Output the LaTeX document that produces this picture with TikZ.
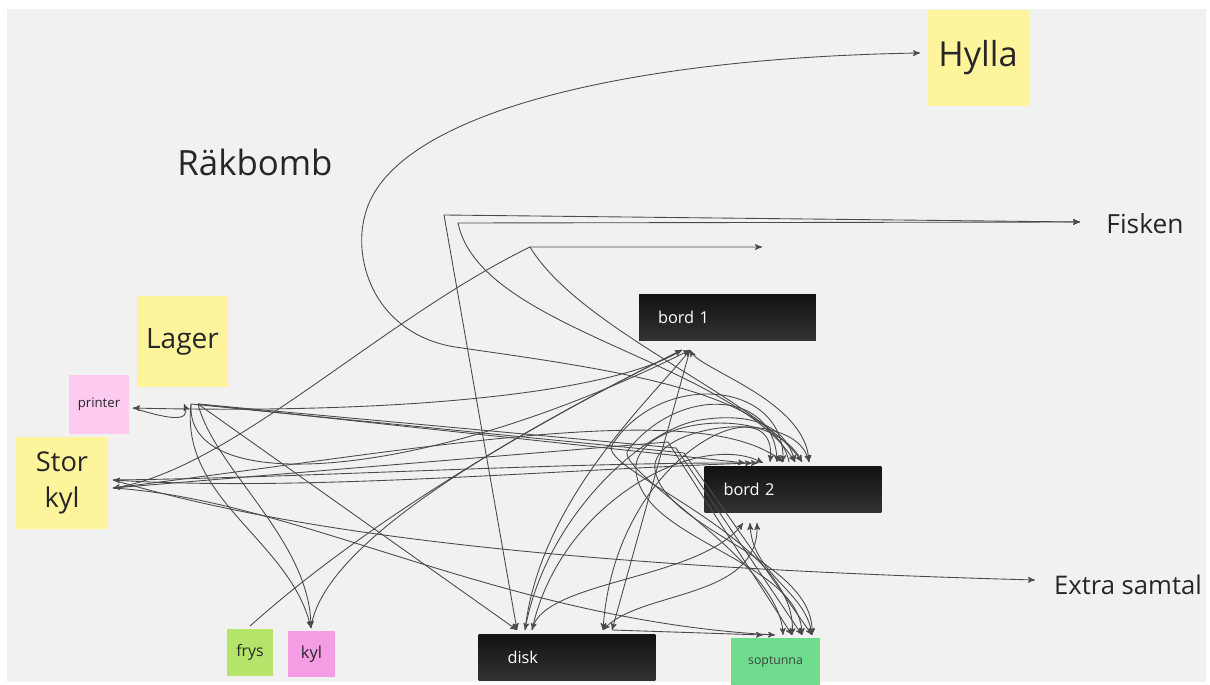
\documentclass[tikz,border=0pt]{standalone}
\usepackage{fontspec}
\setmainfont{Open Sans}
\usepackage{tikz}
\usetikzlibrary{arrows,positioning}
\usepackage{xcolor}
\definecolor{board}{HTML}{F1F1F1}
\definecolor{gul}{HTML}{FEF49C}
\definecolor{rosa}{HTML}{FCCBEF}
\definecolor{lila}{HTML}{F49DE4}
\definecolor{lime}{HTML}{B5E46A}
\definecolor{mint}{HTML}{6FDC8E}
\definecolor{linje}{HTML}{4A4A4A}

\begin{document}
\begin{tikzpicture}[x=0.02cm,y=-0.02cm,>=stealth',
	note/.style={inner sep=0pt,align=center,text=black!85},
	bord/.style={top color=black!93,bottom color=black!80,text=white,inner xsep=0.38cm,inner ysep=0pt,minimum height=0.94cm,text width=2.78cm,align=left,font=\fontsize{9.3}{11}\selectfont},
	pil/.style={draw=linje,line width=0.5pt}]
	\useasboundingbox[fill=white] (0,0) rectangle (1210,685);
	\fill[board] (7,9) rectangle (1206,682);

	  \node[note,fill=gul,minimum width=2.02cm,minimum height=1.92cm,font=\fontsize{19.6}{23}\selectfont] (hylla) at (978,58) {Hylla};
	  \node[note,fill=gul,minimum width=1.82cm,minimum height=1.82cm,font=\fontsize{16}{19}\selectfont] (lager) at (182.5,341.5) {Lager};
	  \node[note,fill=rosa,minimum width=1.2cm,minimum height=1.18cm,font=\fontsize{7.5}{9}\selectfont] (printer) at (99,404.5) {printer};
	  \node[note,fill=gul,minimum width=1.84cm,minimum height=1.84cm,font=\fontsize{15.5}{20.4}\selectfont] (storkyl) at (62,483) {Stor\\kyl};
	  \node[note,fill=lime,minimum width=0.92cm,minimum height=0.94cm,font=\fontsize{9}{11}\selectfont] (frys) at (250,652.5) {frys};
	  \node[note,fill=lila,minimum width=0.94cm,minimum height=0.92cm,font=\fontsize{9.4}{11}\selectfont] (kyl) at (311.5,654) {kyl};
	  \node[bord] (bord1) at (727.5,317.5) {bord 1};
	  \node[bord] (bord2) at (793,489.5) {bord 2};
	  \node[bord,inner xsep=0.58cm,text width=2.38cm] (disk) at (567,657.5) {disk};
	  \node[note,fill=mint,minimum width=1.78cm,minimum height=0.94cm,font=\fontsize{7}{9}\selectfont,text=black!75] (soptunna) at (775.5,661.5) {soptunna};

	  \node[font=\fontsize{19.8}{23}\selectfont,text=black!85] (rakbomb) at (255,162) {Räkbomb};
	  \node[font=\fontsize{15}{18}\selectfont,text=black!85] (fisken) at (1145,224) {Fisken};
	  \node[font=\fontsize{14.6}{18}\selectfont,text=black!85] (extra) at (1128,585) {Extra samtal};

	  \coordinate (hyP) at (920,53);
	  \coordinate (fiP) at (1080,222);
	  \coordinate (exP) at (1035,580);
	  \coordinate (blP) at (762,247);
	  \coordinate (c1) at (444,215);
	  \coordinate (c2) at (458,223);
	  \coordinate (c3) at (530,247);
	  \coordinate (h1) at (668,442);
	  \coordinate (h2) at (676,448);
	  \coordinate (h3) at (684,453);
	  \coordinate (prE) at (133,408);
	  \coordinate (lgA) at (184,404);
	  \coordinate (lgB) at (191,404);
	  \coordinate (lgC) at (198,404);
	  \coordinate (skA) at (113,480);
	  \coordinate (skB) at (113,488);
	  \coordinate (kyN) at (311,628);
	  \coordinate (frN) at (250,626);
	  \coordinate (b1A) at (682,350);
	  \coordinate (b1B) at (690,350);
	  \coordinate (b2L1) at (745,463);
	  \coordinate (b2L2) at (752,463);
	  \coordinate (b2L3) at (758,463);
	  \coordinate (b2L4) at (763,463);
	  \coordinate (b2T1) at (770,462);
	  \coordinate (b2T2) at (777,462);
	  \coordinate (b2T3) at (783,462);
	  \coordinate (b2T4) at (789,462);
	  \coordinate (b2T5) at (795,462);
	  \coordinate (b2T6) at (802,462);
	  \coordinate (b2T7) at (809,462);
	  \coordinate (b2B1) at (743,523);
	  \coordinate (b2B2) at (750,523);
	  \coordinate (b2B3) at (757,523);
	  \coordinate (dkA) at (517,630);
	  \coordinate (dkB) at (525,630);
	  \coordinate (dkC) at (532,630);
	  \coordinate (dkD) at (603,630);
	  \coordinate (dkE) at (612,630);
	  \coordinate (spA) at (763,635);
	  \coordinate (spB) at (775,635);
	  \coordinate (spC) at (783,635);
	  \coordinate (spD) at (792,635);
	  \coordinate (spE) at (802,635);
	  \coordinate (spF) at (812,635);

	\draw[pil,->] (b2T4) .. controls (775,390) and (600,368) .. (455,347) .. controls (376,334) and (352,262) .. (365,215) .. controls (390,115) and (620,58) .. (hyP);
	\draw[pil,<->] (dkA) -- (c1) -- (fiP);
	\draw[pil,<->] (b2T5) .. controls (730,360) and (480,330) .. (c2) -- (fiP);
	\draw[pil,<->] (b2T6) .. controls (760,400) and (580,330) .. (c3) -- (blP);
	\draw[pil,->] (c3) .. controls (380,320) and (230,470) .. (skB);
	\draw[pil,->] (b1A) .. controls (620,390) and (420,415) .. (prE);
	\draw[pil,->] (prE) .. controls (165,418) and (192,424) .. (lgA);
	\draw[pil,->] (lgB) .. controls (180,500) and (290,540) .. (kyN);
	\draw[pil,->] (lgC) .. controls (215,470) and (310,540) .. (kyN);
	\draw[pil,->] (kyN) .. controls (320,560) and (440,470) .. (b1A);
	\draw[pil,->] (frN) .. controls (380,510) and (560,410) .. (b1A);
	\draw[pil,->] (lgC) -- (dkA);
	\draw[pil,->] (lgC) -- (b2L1);
	\draw[pil,->] (lgC) -- (h2) -- (spE);
	\draw[pil,->] (lgB) -- (h3) -- (spF);
	\draw[pil,->] (lgB) .. controls (185,500) and (430,480) .. (b1B);
	\draw[pil,<->] (skA) .. controls (300,492) and (550,470) .. (b2L2);
	\draw[pil,->] (skA) .. controls (300,478) and (560,462) .. (b2L3);
	\draw[pil,->] (skA) .. controls (250,520) and (480,565) .. (exP);
	\draw[pil,->] (skB) .. controls (300,500) and (500,620) .. (spB);
	\draw[pil,->] (skB) -- (h1) -- (spD);
	\draw[pil,->] (skB) .. controls (420,450) and (700,395) .. (b2T3);
	\draw[pil,->] (dkE) -- (spA);
	\draw[pil,->] (b1B) -- (dkE);
	\draw[pil,<->] (dkD) .. controls (615,450) and (780,380) .. (b2T1);
	\draw[pil,->] (dkB) .. controls (540,500) and (650,400) .. (b1B);
	\draw[pil,->] (dkC) .. controls (560,500) and (700,430) .. (b2L4);
	\draw[pil,<->] (dkC) .. controls (545,580) and (700,580) .. (b2B1);
	\draw[pil,<->] (dkB) .. controls (545,520) and (640,430) .. (700,420) .. controls (750,412) and (785,425) .. (b2T5);
	\draw[pil,<->] (b2T2) .. controls (775,390) and (680,385) .. (628,450) .. controls (612,470) and (780,560) .. (spC);
	\draw[pil,<->] (b2T3) .. controls (785,380) and (660,370) .. (612,445) .. controls (596,470) and (800,540) .. (spD);
	\draw[pil,<->] (spE) .. controls (800,560) and (640,540) .. (636,470) .. controls (632,420) and (770,400) .. (b2T6);
	\draw[pil,<->] (spF) .. controls (815,560) and (665,530) .. (655,470) .. controls (648,425) and (795,405) .. (b2T7);
	\draw[pil,<->] (b2B2) .. controls (752,575) and (805,590) .. (spF);
	\draw[pil,<->] (b2B3) .. controls (760,600) and (640,590) .. (dkD);
	\draw[pil,<->] (b1B) .. controls (700,370) and (805,400) .. (b2T7);
\end{tikzpicture}
\end{document}
